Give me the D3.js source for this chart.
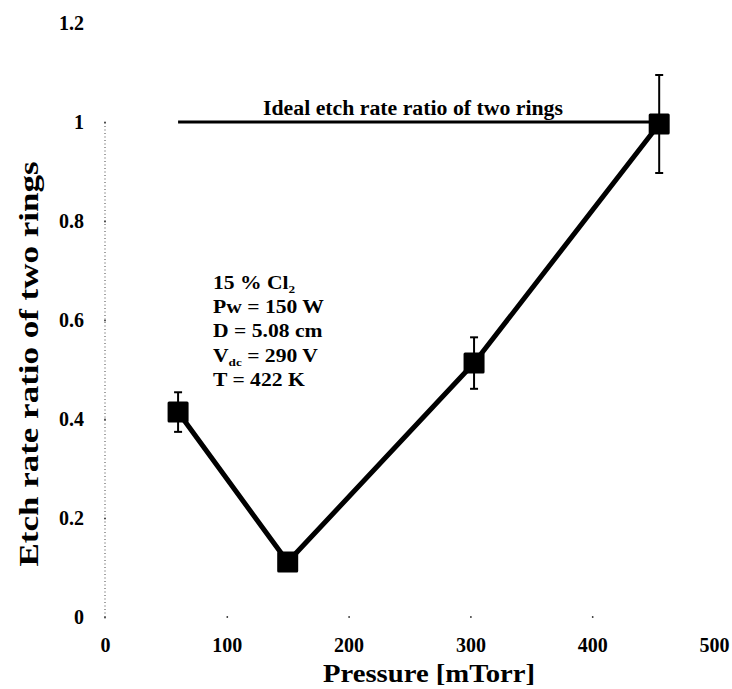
<!DOCTYPE html>
<html>
<head>
<meta charset="utf-8">
<script src="https://cdn.jsdelivr.net/npm/d3@7"></script>
<style>
  html, body { margin: 0; padding: 0; background: #fff; }
  svg { display: block; }
  text { font-family: "Liberation Serif", "Times New Roman", serif; font-weight: bold; fill: #000; }
</style>
</head>
<body>
<svg id="chart" width="732" height="689"></svg>
<script>
// Measured etch-rate ratio versus chamber pressure
const pressure = [60, 150, 303, 455];          // mTorr
const ratio    = [0.414, 0.111, 0.513, 0.996]; // etch rate ratio of two rings
const ratioErr = [0.04, 0.015, 0.052, 0.099];  // ± error

// Reference line for the ideal ratio
const idealRatio = 1;
const idealRange = [60, 455];
const idealLabel = "Ideal etch rate ratio of two rings";

const xTicks = [0, 100, 200, 300, 400, 500];
const yTicks = [0, 0.2, 0.4, 0.6, 0.8, 1, 1.2];

const conditions = [
  ["15 % Cl", "2", ""],
  ["Pw = 150 W", "", ""],
  ["D = 5.08 cm", "", ""],
  ["V", "dc", " = 290 V"],
  ["T = 422 K", "", ""]
];

const svg = d3.select("#chart");

const x = d3.scaleLinear().domain([0, 500]).range([105, 714]);
const y = d3.scaleLinear().domain([0, 1.2]).range([617, 23]);

// Dotted vertical axis
svg.append("line")
  .attr("x1", x(0)).attr("x2", x(0))
  .attr("y1", y(0)).attr("y2", y(1))
  .attr("stroke", "#444").attr("stroke-width", 1)
  .attr("stroke-dasharray", "1,2.5");

// Y axis tick labels and dot ticks
const yAxis = d3.axisLeft(y)
  .tickValues(yTicks)
  .tickSize(0)
  .tickPadding(21)
  .tickFormat(d3.format("~g"));
const gy = svg.append("g").attr("transform", `translate(${x(0)},0)`).call(yAxis);
gy.select(".domain").remove();
gy.selectAll(".tick text")
  .attr("font-size", 20)
  .attr("font-family", null)
  .attr("fill", "#000");
gy.selectAll(".tick").filter(d => d <= 1).append("circle")
  .attr("r", 0.9).attr("fill", "#333");

// X axis tick labels and dot ticks
const xAxis = d3.axisBottom(x)
  .tickValues(xTicks)
  .tickSize(0)
  .tickPadding(21)
  .tickFormat(d3.format("d"));
const gx = svg.append("g").attr("transform", `translate(0,${y(0)})`).call(xAxis);
gx.select(".domain").remove();
gx.selectAll(".tick text")
  .attr("font-size", 20)
  .attr("font-family", null)
  .attr("fill", "#000");
gx.selectAll(".tick").filter(d => d > 0 && d < 500).append("circle")
  .attr("r", 0.9).attr("fill", "#333");

// Axis titles
svg.append("text")
  .attr("x", 429).attr("y", 682)
  .attr("text-anchor", "middle")
  .attr("font-size", 26)
  .attr("textLength", 212).attr("lengthAdjust", "spacingAndGlyphs")
  .text("Pressure [mTorr]");

svg.append("text")
  .attr("transform", "translate(38,364) rotate(-90)")
  .attr("text-anchor", "middle")
  .attr("font-size", 28)
  .attr("textLength", 405).attr("lengthAdjust", "spacingAndGlyphs")
  .text("Etch rate ratio of two rings");

// Ideal ratio reference line
svg.append("line")
  .attr("x1", x(idealRange[0])).attr("x2", x(idealRange[1]))
  .attr("y1", y(idealRatio)).attr("y2", y(idealRatio))
  .attr("stroke", "#000").attr("stroke-width", 3);
svg.append("text")
  .attr("x", 263).attr("y", 115)
  .attr("font-size", 20)
  .attr("textLength", 300).attr("lengthAdjust", "spacingAndGlyphs")
  .text(idealLabel);

// Data
const pts = pressure.map((p, i) => ({ p, r: ratio[i], e: ratioErr[i] }));

svg.append("path")
  .datum(pts)
  .attr("fill", "none")
  .attr("stroke", "#000")
  .attr("stroke-width", 5)
  .attr("stroke-linejoin", "round")
  .attr("d", d3.line().x(d => x(d.p)).y(d => y(d.r)));

// Error bars
const eb = svg.append("g").selectAll("g").data(pts).join("g");
eb.append("line")
  .attr("x1", d => x(d.p)).attr("x2", d => x(d.p))
  .attr("y1", d => y(d.r - d.e)).attr("y2", d => y(d.r + d.e))
  .attr("stroke", "#000").attr("stroke-width", 2);
eb.selectAll("line.cap").data(d => [d.r - d.e, d.r + d.e].map(v => ({ p: d.p, v })))
  .join("line").attr("class", "cap")
  .attr("x1", d => x(d.p) - 4).attr("x2", d => x(d.p) + 4)
  .attr("y1", d => y(d.v)).attr("y2", d => y(d.v))
  .attr("stroke", "#000").attr("stroke-width", 2);

// Square markers
const m = 21;
svg.append("g").selectAll("rect").data(pts).join("rect")
  .attr("x", d => x(d.p) - m / 2)
  .attr("y", d => y(d.r) - m / 2)
  .attr("width", m).attr("height", m)
  .attr("rx", 1.5)
  .attr("fill", "#000");

// Process conditions
const cond = svg.append("g").attr("transform", "translate(213,0) scale(1.2,1)");
conditions.forEach((c, i) => {
  const t = cond.append("text")
    .attr("x", 0).attr("y", 289 + i * 24.2)
    .attr("font-size", 18);
  t.append("tspan").text(c[0]);
  if (c[1]) {
    t.append("tspan").attr("font-size", 11).attr("dy", 4).text(c[1]);
    if (c[2]) t.append("tspan").attr("dy", -4).text(c[2]);
  }
});
</script>
</body>
</html>
